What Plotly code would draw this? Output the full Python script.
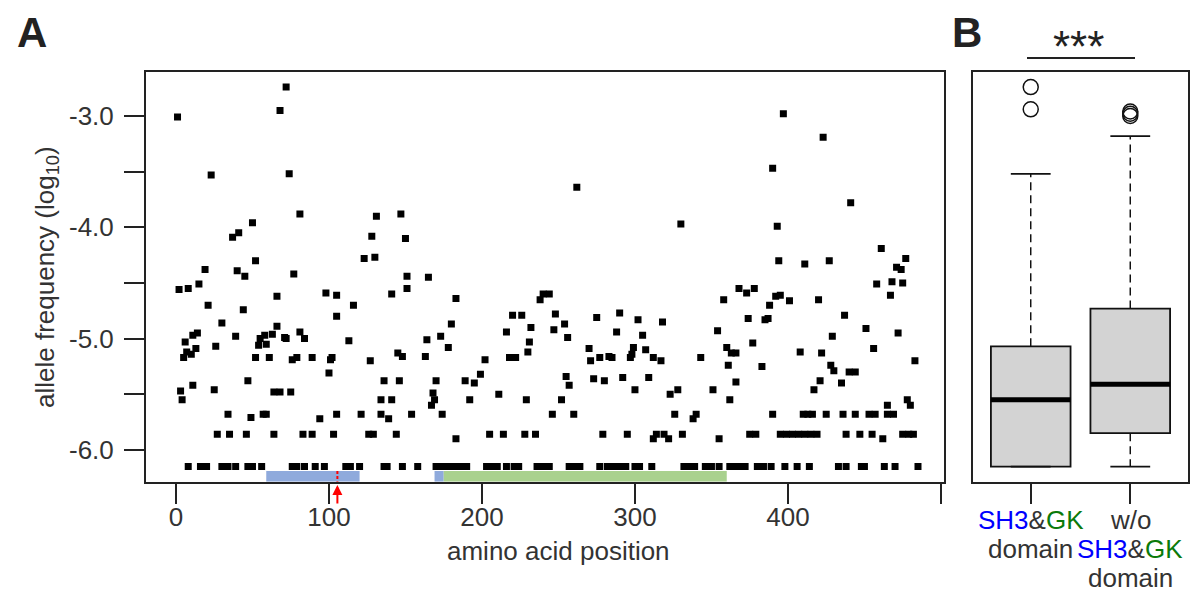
import plotly.graph_objects as go

W, H = 1199, 595
FONT = "Liberation Sans, Arial, sans-serif"
TXT = "#333333"
LINE = "#222222"

# Pannello A: posizione amminoacidica e frequenza allelica (log10)
pos_1 = [72, 68, 1, 23, 74, 81, 50, 41, 37, 52, 19, 40, 45, 77,
         2, 8, 15, 21, 44, 66, 98, 105, 105, 30, 66, 6, 11, 14,
         7, 10, 13, 5, 26, 39, 54, 55, 58, 59, 63, 71, 72, 81, 84,
         52, 61, 76, 79, 89, 101, 102, 100, 47, 3, 4, 11, 25, 64, 68, 75,
         34, 49, 57, 59, 94, 105,
         27, 35, 46, 64, 83, 89, 103,
         8, 16, 20, 30, 34, 39, 47, 50, 56, 76, 79, 84, 91, 97]
af_1 = [-2.74, -2.95, -3.01, -3.53, -3.52, -3.88, -3.96, -4.05, -4.09, -4.30, -4.38, -4.39, -4.44, -4.42,
        -4.56, -4.55, -4.51, -4.70, -4.74, -4.62, -4.59, -4.61, -4.80, -4.86, -4.89, -5.03, -4.97, -4.95,
        -5.12, -5.14, -5.09, -5.17, -5.07, -4.98, -5.06, -5.00, -4.97, -5.05, -4.96, -4.99, -5.00, -4.94, -5.00,
        -5.17, -5.17, -5.19, -5.17, -5.17, -5.19, -5.17, -5.31, -5.38, -5.47, -5.55, -5.42, -5.46, -5.48, -5.48, -5.48,
        -5.68, -5.71, -5.68, -5.68, -5.72, -5.68,
        -5.86, -5.86, -5.86, -5.86, -5.86, -5.86, -5.86,
        -6.15, -6.15, -6.15, -6.15, -6.15, -6.15, -6.15, -6.15, -6.15, -6.15, -6.15, -6.15, -6.15, -6.15]

pos_2 = [131, 147, 128, 150, 123, 130, 151, 165, 151, 141, 116, 183,
         220, 226, 180, 216, 113, 164, 173, 178, 231, 230, 127, 145, 148, 163,
         202, 218, 222, 136, 146, 170, 189, 195, 199, 211, 168, 169, 167,
         134, 141, 192, 229, 121, 134, 139, 154, 174, 183,
         126, 129, 144, 205, 214, 228,
         111, 114, 120, 136, 138, 148, 158, 170, 173, 177, 181, 185, 187, 190, 203, 206, 210, 216, 221, 224]
af_2 = [-3.90, -3.88, -4.08, -4.10, -4.28, -4.27, -4.44, -4.45, -4.55, -4.60, -4.70, -4.64,
        -4.79, -4.79, -4.87, -4.94, -5.02, -5.01, -4.98, -5.08, -5.03, -5.12, -5.20, -5.13, -5.16, -5.16,
        -5.19, -5.17, -5.17, -5.38, -5.38, -5.38, -5.38, -5.40, -5.32, -5.50, -5.49, -5.55, -5.60,
        -5.55, -5.55, -5.55, -5.55, -5.68, -5.68, -5.72, -5.68, -5.68, -5.90,
        -5.86, -5.86, -5.86, -5.86, -5.86, -5.86,
        -6.15, -6.15, -6.15, -6.15, -6.15, -6.15, -6.15, -6.15, -6.15, -6.15, -6.15, -6.15, -6.15, -6.15,
        -6.15, -6.15, -6.15, -6.15, -6.15, -6.15]

pos_3 = [262, 330, 238, 240, 244, 248, 254, 247, 256, 232, 275, 290, 288, 302, 305, 318,
         270, 271, 277, 283, 285, 297, 298, 299, 307, 312, 317, 343, 354,
         255, 257, 273, 280, 292, 300, 309, 323, 328, 351, 252,
         246, 260, 326, 340, 338, 312, 322, 355,
         235, 279, 295, 314, 319, 331,
         236, 240, 244, 257, 261, 264, 277, 282, 286, 290, 294, 300, 303, 311, 332, 336, 339, 346, 350, 355]
af_3 = [-3.64, -3.97, -4.65, -4.60, -4.60, -4.78, -4.87, -4.92, -4.99, -4.90, -4.81, -4.77, -4.94, -4.83, -4.97, -4.85,
        -5.09, -5.20, -5.17, -5.16, -5.17, -5.17, -5.14, -5.08, -5.10, -5.17, -5.20, -5.17, -4.93,
        -5.34, -5.42, -5.36, -5.38, -5.35, -5.46, -5.35, -5.50, -5.46, -5.46, -5.55,
        -5.68, -5.68, -5.68, -5.68, -5.72, -5.90, -5.90, -5.90,
        -5.86, -5.86, -5.86, -5.86, -5.86, -5.86,
        -6.15, -6.15, -6.15, -6.15, -6.15, -6.15, -6.15, -6.15, -6.15, -6.15, -6.15, -6.15, -6.15, -6.15,
        -6.15, -6.15, -6.15, -6.15, -6.15, -6.15]

pos_4 = [397, 423, 390, 441, 393, 394, 411, 427, 461, 477, 471, 474,
         458, 468, 475, 467, 368, 373, 378, 358, 392, 395, 401, 388, 420,
         374, 385, 387, 437, 451, 472, 429, 377, 360, 363, 366, 408, 422, 456, 483,
         361, 383, 428, 430, 440, 444, 366, 421, 435, 417, 362, 465, 478, 480, 462,
         390, 410, 413, 416, 425, 436, 444, 453, 457, 465, 469,
         375, 379, 395, 399, 403, 407, 411, 415, 419, 438, 447, 455, 475, 479, 482,
         362, 366, 369, 372, 380, 384, 389, 398, 406, 414, 433, 438, 448, 450, 463, 470, 485]
af_4 = [-2.98, -3.19, -3.47, -3.78, -3.99, -4.30, -4.33, -4.30, -4.19, -4.28, -4.36, -4.38,
        -4.51, -4.49, -4.50, -4.61, -4.55, -4.59, -4.55, -4.65, -4.62, -4.61, -4.66, -4.70, -4.65,
        -4.82, -4.83, -4.82, -4.79, -4.91, -4.95, -4.98, -5.04, -5.08, -5.13, -5.13, -5.12, -5.13, -5.09, -5.20,
        -5.24, -5.25, -5.24, -5.29, -5.30, -5.30, -5.39, -5.38, -5.40, -5.46, -5.55, -5.60, -5.55, -5.60, -5.90,
        -5.68, -5.68, -5.68, -5.68, -5.68, -5.68, -5.68, -5.68, -5.68, -5.68, -5.68,
        -5.86, -5.86, -5.86, -5.86, -5.86, -5.86, -5.86, -5.86, -5.86, -5.86, -5.86, -5.86, -5.86, -5.86, -5.86,
        -6.15, -6.15, -6.15, -6.15, -6.15, -6.15, -6.15, -6.15, -6.15, -6.15, -6.15, -6.15, -6.15, -6.15,
        -6.15, -6.15, -6.15]

pos = pos_1 + pos_2 + pos_3 + pos_4
af = af_1 + af_2 + af_3 + af_4

# Domini (SH3 diviso in due parti, poi GK) e mutazione segnata in rosso
dom_start = [59, 169, 175]
dom_end = [120, 175, 360]
dom_color = ["#8FAADC", "#8FAADC", "#A9D18E"]
mut_pos = 105.5

x_ticks = [0, 100, 200, 300, 400, 500]
x_labels = ["0", "100", "200", "300", "400", " "]
y_ticks = [-6.0, -5.5, -5.0, -4.5, -4.0, -3.5, -3.0]
y_labels = ["-6.0", " ", "-5.0", " ", "-4.0", " ", "-3.0"]

# Pannello B: statistiche dei boxplot
box_pos = [1, 2]
box_lo = [-6.15, -6.15]
box_q1 = [-6.15, -5.85]
box_med = [-5.55, -5.41]
box_q3 = [-5.07, -4.73]
box_hi = [-3.52, -3.18]
out_x = [1, 1, 2, 2, 2]
out_y = [-2.74, -2.94, -2.96, -2.98, -3.00]

y_range = [-6.286, -2.602]
y_dom = [1 - 481.7 / H, 1 - 71.7 / H]

fig = go.Figure()

fig.add_trace(go.Scatter(
    x=pos, y=af, mode="markers",
    marker=dict(symbol="square", size=7, color="black"),
    xaxis="x", yaxis="y"
))

fig.add_trace(go.Box(
    x=box_pos, q1=box_q1, median=box_med, q3=box_q3,
    lowerfence=box_q1, upperfence=box_q3,
    width=0.8, fillcolor="#D3D3D3", line=dict(color="#111111", width=1.8),
    boxpoints=False, xaxis="x2", yaxis="y2"
))

for c, lo, q1, med, q3, hi in zip(box_pos, box_lo, box_q1, box_med, box_q3, box_hi):
    fig.add_trace(go.Scatter(
        x=[c, c, None, c, c], y=[q3, hi, None, q1, lo], mode="lines",
        line=dict(color="#111111", width=1.5, dash="8px,5px"),
        xaxis="x2", yaxis="y2"
    ))
    fig.add_trace(go.Scatter(
        x=[c - 0.2, c + 0.2, None, c - 0.2, c + 0.2], y=[hi, hi, None, lo, lo], mode="lines",
        line=dict(color="#111111", width=1.8),
        xaxis="x2", yaxis="y2"
    ))
    fig.add_trace(go.Scatter(
        x=[c - 0.4, c + 0.4], y=[med, med], mode="lines",
        line=dict(color="black", width=5),
        xaxis="x2", yaxis="y2"
    ))

fig.add_trace(go.Scatter(
    x=out_x, y=out_y, mode="markers",
    marker=dict(symbol="circle-open", size=15, color="#111111", line=dict(width=1.5)),
    xaxis="x2", yaxis="y2"
))

# barre dei domini sotto i punti
shapes = []
for s, e, col in zip(dom_start, dom_end, dom_color):
    shapes.append(dict(type="rect", xref="x", yref="y", x0=s, x1=e, y0=-6.19, y1=y_range[0],
                       fillcolor=col, line=dict(width=0), layer="below"))
shapes.append(dict(type="line", xref="x", yref="y", x0=mut_pos, x1=mut_pos, y0=-6.19, y1=y_range[0],
                   line=dict(color="red", width=2, dash="3px,2px")))
# linea sotto gli asterischi
shapes.append(dict(type="line", xref="paper", yref="paper", x0=1027 / W, x1=1135 / W,
                   y0=1 - 58 / H, y1=1 - 58 / H, line=dict(color=LINE, width=2)))

tick_font = dict(family=FONT, size=26, color=TXT)
ax_common = dict(showline=True, mirror=True, linecolor=LINE, linewidth=2, showgrid=False,
                 zeroline=False, ticks="outside", ticklen=20, tickwidth=2, tickcolor=LINE,
                 tickfont=tick_font)


def testo(t, px, py, size=26, color=TXT, **kw):
    d = dict(text=t, x=px / W, y=1 - py / H, xref="paper", yref="paper",
             xanchor="center", yanchor="middle", showarrow=False,
             font=dict(family=FONT, size=size, color=color))
    d.update(kw)
    return d


annotations = [
    testo("<b>A</b>", 32, 32, size=42, color=LINE),
    testo("<b>B</b>", 967, 32, size=42, color=LINE),
    testo("***", 1078, 47, size=44, color=LINE),
    testo("amino acid position", 558, 551),
    testo("allele frequency (log<sub>10</sub>)", 46, 277, textangle=-90),
    dict(text="", x=mut_pos, xref="x", y=1 - 485 / H, yref="paper", showarrow=True,
         ax=0, ay=20, arrowcolor="red", arrowwidth=2, arrowhead=2, arrowsize=1),
]

sh3gk = "<span style='color:#0000FF'>SH3</span>&amp;<span style='color:#0A7A0A'>GK</span>"
b_lines = [(1, 520, sh3gk), (1, 549, "domain"),
           (2, 520, "w/o"), (2, 549, sh3gk), (2, 578, "domain")]
for bx, by, t in b_lines:
    annotations.append(dict(text=t, x=bx, xref="x2", y=1 - by / H, yref="paper",
                            xanchor="center", yanchor="middle", showarrow=False,
                            font=dict(family=FONT, size=26, color=TXT)))

fig.update_layout(
    width=W, height=H,
    margin=dict(l=0, r=0, t=0, b=0),
    paper_bgcolor="white", plot_bgcolor="white",
    showlegend=False,
    xaxis=dict(domain=[146 / W, 944 / W], range=[-19.6, 502], anchor="y",
               tickvals=x_ticks, ticktext=x_labels, ticklabelstandoff=-9, **ax_common),
    yaxis=dict(domain=y_dom, range=y_range, anchor="x",
               tickvals=y_ticks, ticktext=y_labels, ticklabelstandoff=5, **ax_common),
    xaxis2=dict(domain=[973 / W, 1188 / W], range=[0.42, 2.58], anchor="y2",
                tickvals=box_pos, ticktext=[" ", " "], **ax_common),
    yaxis2=dict(domain=y_dom, range=y_range, anchor="x2", showline=True, mirror=True,
                linecolor=LINE, linewidth=2, showgrid=False, zeroline=False,
                showticklabels=False, ticks=""),
    shapes=shapes,
    annotations=annotations,
)

fig.write_html("out.html", config={"displayModeBar": False},
               post_script="document.body.style.margin='0px';")
